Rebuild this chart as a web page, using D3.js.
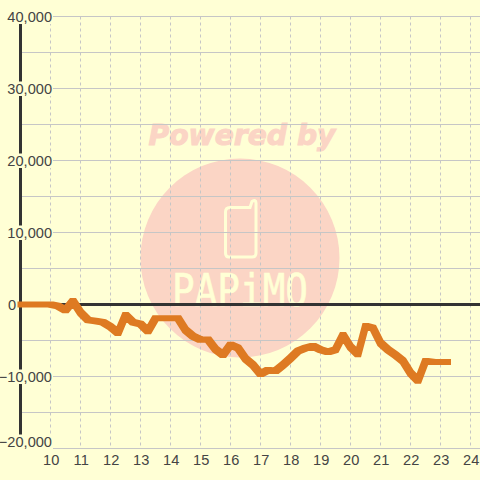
<!DOCTYPE html>
<html><head><meta charset="utf-8">
<script src="https://cdn.jsdelivr.net/npm/d3@7"></script>
<style>html,body{margin:0;padding:0;background:#FFFFD5}svg{display:block}</style>
</head><body><svg id="c" width="480" height="480"></svg>
<script>
const hours=[9,9.25,9.5,9.75,10,10.25,10.5,10.75,11,11.25,11.5,11.75,12,12.25,12.5,12.75,13,13.25,13.5,13.75,14,14.25,14.5,14.75,15,15.25,15.5,15.75,16,16.25,16.5,16.75,17,17.25,17.5,17.75,18,18.25,18.5,18.75,19,19.25,19.5,19.75,20,20.25,20.5,20.75,21,21.25,21.5,21.75,22,22.25,22.5,22.75,23,23.25];
const balance=[0,0,0,0,0,-200,-800,500,-1100,-2150,-2300,-2450,-3100,-3950,-1450,-2450,-2700,-3700,-1900,-1900,-1900,-1900,-3550,-4400,-4900,-4850,-6200,-7000,-5600,-6050,-7550,-8400,-9650,-9100,-9250,-8400,-7450,-6450,-6050,-5750,-6300,-6600,-6300,-4250,-5900,-6900,-3000,-3250,-5350,-6300,-7000,-7850,-9500,-10600,-7850,-8000,-8000,-8000];
const yLabelled=[40000,30000,20000,10000,0,-10000,-20000];
const yGrid=[35000,25000,15000,5000,-5000,-15000];
const xTicks=[10,11,12,13,14,15,16,17,18,19,20,21,22,23,24];
const watermarkTop="Powered by", watermarkBrand="PAPiMO";

const BG="#FFFFD5",GRID="#C6C6C6",AXIS="#333333",TXT="#444444",LINE="#DE7A22",WM="#FBD5C5";
const x=d3.scaleLinear().domain([9,24]).range([20.5,470.5]);
const y=d3.scaleLinear().domain([-20000,40000]).range([448.5,16.5]);
const svg=d3.select("#c");
const font="'Liberation Sans',Arial,sans-serif";

svg.append("rect").attr("width",480).attr("height",480).attr("fill",BG);

// watermark
svg.append("text").text(watermarkTop).attr("x",242).attr("y",145).attr("text-anchor","middle")
  .attr("font-family","'DejaVu Sans'").attr("font-weight","bold").attr("font-style","italic")
  .attr("font-size",29).attr("textLength",187).attr("lengthAdjust","spacingAndGlyphs")
  .attr("fill",WM).attr("stroke",WM).attr("stroke-width",1);
svg.append("circle").attr("cx",240).attr("cy",258).attr("r",99.5).attr("fill",WM);
const ph=d3.path();
ph.moveTo(230,207.5);ph.lineTo(250,207.5);ph.lineTo(252,201.5);ph.quadraticCurveTo(256,199,256,203);
ph.lineTo(256,253);ph.quadraticCurveTo(256,257,252,257);ph.lineTo(229,257);
ph.quadraticCurveTo(225.5,257,225.5,253);ph.lineTo(225.5,212);ph.quadraticCurveTo(225.5,207.5,230,207.5);
svg.append("path").attr("d",ph.toString()).attr("fill","none").attr("stroke",BG).attr("stroke-width",3);
svg.append("text").text(watermarkBrand).attr("x",172).attr("y",306)
  .attr("font-family","'DejaVu Sans Mono'").attr("font-size",44)
  .attr("textLength",136).attr("lengthAdjust","spacingAndGlyphs")
  .attr("fill",BG).attr("stroke",BG).attr("stroke-width",0.6);

// grid
svg.append("g").selectAll("line").data(yLabelled.concat(yGrid).filter(d=>d!==0)).join("line")
  .attr("x1",20).attr("x2",480).attr("y1",d=>y(d)).attr("y2",d=>y(d))
  .attr("stroke",GRID).attr("stroke-width",1);
svg.append("g").selectAll("line").data(xTicks).join("line")
  .attr("x1",d=>x(d)).attr("x2",d=>x(d)).attr("y1",y(40000)).attr("y2",y(-20000))
  .attr("stroke",GRID).attr("stroke-width",1).attr("stroke-dasharray","3,3");

// axes
svg.append("line").attr("x1",x(9)).attr("x2",x(9)).attr("y1",y(40000)).attr("y2",y(-20000))
  .attr("stroke",AXIS).attr("stroke-width",3);
svg.append("line").attr("x1",x(9)).attr("x2",480).attr("y1",y(0)).attr("y2",y(0))
  .attr("stroke",AXIS).attr("stroke-width",3);

// y labels with background plates
const fmt=d3.format(",");
const yl=svg.append("g").selectAll("g").data(yLabelled).join("g")
  .attr("transform",d=>`translate(${d===0?16:52},${d===-20000?y(d)-7:y(d)})`);
yl.filter(d=>d!==0).append("rect").attr("x",-52).attr("y",-7).attr("width",53).attr("height",14.5).attr("fill",BG);
yl.append("text").text(d=>fmt(d)).attr("text-anchor","end").attr("dy","0.36em")
  .attr("font-family",font).attr("font-size",14.6).attr("fill",TXT);

// x labels
svg.append("g").selectAll("text").data(xTicks).join("text").text(d=>d)
  .attr("x",d=>x(d)+0.7).attr("y",465).attr("text-anchor","middle")
  .attr("font-family",font).attr("font-size",14.6).attr("fill",TXT);

// series: the curve is swept with a square pen, so diagonals read thicker and peaks flat
const pen=3;
const pts=balance.map((v,i)=>[x(hours[i]),y(v)]);
const sweep=d3.path();
d3.pairs(pts).forEach(([a,b])=>{
  const corners=[a,b].flatMap(([px,py])=>[[px-pen,py-pen],[px+pen,py-pen],[px+pen,py+pen],[px-pen,py+pen]]);
  const hull=d3.polygonHull(corners);
  sweep.moveTo(hull[0][0],hull[0][1]);
  hull.slice(1).forEach(p=>sweep.lineTo(p[0],p[1]));
  sweep.closePath();
});
svg.append("path").attr("d",sweep.toString()).attr("fill",LINE).attr("stroke","none").attr("fill-rule","nonzero");
</script></body></html>
